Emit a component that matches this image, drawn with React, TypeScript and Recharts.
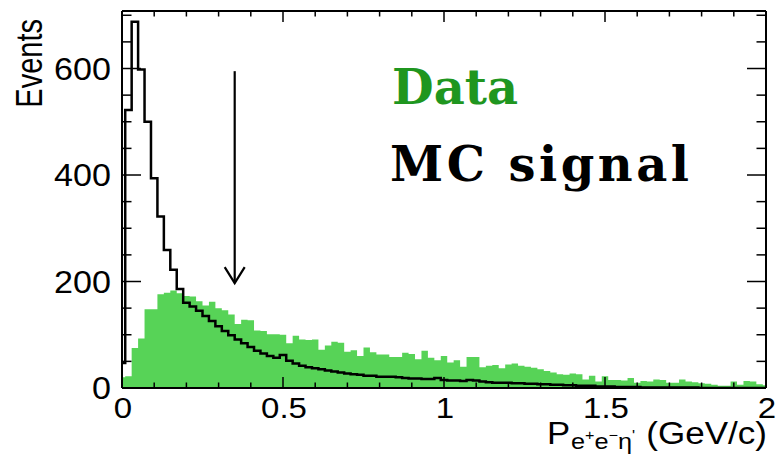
import React from 'react'
import { ComposedChart, Area, Line, XAxis, YAxis, ReferenceLine } from 'recharts'

// histogram bins, 0.02 GeV/c wide, bin k centred on k * 0.02
const BIN_WIDTH = 0.02

const dataCounts = [
  20, 22, 75, 93, 148, 148, 176, 179, 183, 178,
  173, 172, 163, 155, 162, 150, 146, 138, 120, 128,
  127, 108, 107, 101, 101, 100, 84, 98, 91, 90,
  91, 72, 80, 87, 85, 68, 71, 60, 76, 67,
  63, 63, 58, 58, 66, 64, 54, 70, 57, 52,
  60, 48, 52, 40, 58, 58, 39, 42, 43, 37,
  44, 46, 42, 40, 38, 35, 32, 29, 26, 25,
  27, 26, 16, 23, 12, 22, 15, 15, 14, 19,
  10, 13, 12, 16, 15, 10, 10, 16, 12, 11,
  9, 8, 6, 4, 4, 12, 6, 13, 12, 7,
  5,
]

const mcCounts = [
  47, 522, 688, 598, 500, 394, 322, 259, 222, 186,
  160, 153, 145, 135, 126, 116, 107, 99, 91, 84,
  77, 70, 65, 60, 57, 62, 51, 46, 42, 39,
  37, 35, 33, 31, 29, 27, 26, 25, 23, 23,
  21, 21, 21, 20, 19, 18, 18, 17, 17, 19,
  15, 14, 14, 13, 15, 14, 12, 11, 10, 10,
  10, 9, 9, 8, 8, 7, 7, 6, 6, 5,
  5, 4, 4, 4, 3, 3, 3, 2, 2, 2,
  2, 1, 1, 1, 1, 1, 1, 1, 1, 1,
  0, 0, 0, 0, 0, 0, 0, 0, 0, 0,
  0,
]

const xTicks = [0, 0.1, 0.2, 0.3, 0.4, 0.5, 0.6, 0.7, 0.8, 0.9, 1, 1.1, 1.2, 1.3, 1.4, 1.5, 1.6, 1.7, 1.8, 1.9, 2]
const xLabels = [0, 0.5, 1, 1.5, 2]
const yTicks = [0, 50, 100, 150, 200, 250, 300, 350, 400, 450, 500, 550, 600, 650, 700]
const yLabels = [0, 200, 400, 600]

// cut arrow
const arrowX = 0.35
const arrowTop = 595
const arrowTip = 197

const X_DOMAIN: [number, number] = [0, 2]
const Y_DOMAIN: [number, number] = [0, 708]

const rows = dataCounts.map((d, k) => ({
  x: Math.max(0, k * BIN_WIDTH - BIN_WIDTH / 2),
  data: d,
  mc: mcCounts[k],
}))
rows.push({ x: 2, data: dataCounts[dataCounts.length - 1], mc: mcCounts[mcCounts.length - 1] })

const SANS = '"Liberation Sans", Arial, Helvetica, sans-serif'
const SERIF = '"DejaVu Serif", "Liberation Serif", serif'
const GREEN = '#57d357'

const has = (list: number[], v: number) => list.some(l => Math.abs(l - v) < 1e-6)

// the source image is a little stretched sideways, so labels get a small x-scale
function WideText({ x, y, anchor, size, stretch = 1.1, children }: any) {
  return (
    <text
      transform={`translate(${x},${y}) scale(${stretch},1)`}
      textAnchor={anchor}
      fontSize={size}
      fontFamily={SANS}
      fill="#000"
    >
      {children}
    </text>
  )
}

function BottomTick({ x, y, payload }: any) {
  const major = has(xLabels, payload.value)
  return (
    <g>
      <line x1={x} y1={y} x2={x} y2={y - (major ? 11 : 5.5)} stroke="#000" strokeWidth={1.5} />
      {major && <WideText x={x + 1} y={y + 30} anchor="middle" size={30}>{String(payload.value)}</WideText>}
    </g>
  )
}

function TopTick({ x, y, payload }: any) {
  const major = has(xLabels, payload.value)
  return <line x1={x} y1={y} x2={x} y2={y + (major ? 11 : 5.5)} stroke="#000" strokeWidth={1.5} />
}

function LeftTick({ x, y, payload }: any) {
  const major = has(yLabels, payload.value)
  return (
    <g>
      <line x1={x} y1={y} x2={x + (major ? 19 : 9.5)} y2={y} stroke="#000" strokeWidth={1.5} />
      {major && <WideText x={x - 11} y={y + 11} anchor="end" size={31}>{String(payload.value)}</WideText>}
    </g>
  )
}

function RightTick({ x, y, payload }: any) {
  const major = has(yLabels, payload.value)
  return <line x1={x} y1={y} x2={x - (major ? 19 : 9.5)} y2={y} stroke="#000" strokeWidth={1.5} />
}

function ArrowShape(props: any) {
  const { x1, y1, x2, y2 } = props
  return (
    <g>
      <line x1={x1} y1={y1} x2={x2} y2={y2} stroke="#000" strokeWidth={2.2} />
      <polyline
        points={`${x2 - 10},${y2 - 16} ${x2},${y2} ${x2 + 10},${y2 - 16}`}
        fill="none"
        stroke="#000"
        strokeWidth={2.2}
      />
    </g>
  )
}

const axisLine = { stroke: '#000', strokeWidth: 2 }

export default function App() {
  return (
    <div style={{ position: 'absolute', left: 0, top: 0, width: 780, height: 457, background: '#fff' }}>
      <ComposedChart width={780} height={457} data={rows} margin={{ top: 10, right: 13, bottom: 68, left: 121 }}>
        <XAxis
          dataKey="x"
          type="number"
          domain={X_DOMAIN}
          allowDataOverflow
          ticks={xTicks}
          interval={0}
          height={1}
          tickSize={0}
          tickMargin={0}
          tickLine={false}
          axisLine={axisLine}
          tick={BottomTick}
        />
        <XAxis
          xAxisId="top"
          dataKey="x"
          orientation="top"
          type="number"
          domain={X_DOMAIN}
          allowDataOverflow
          ticks={xTicks}
          interval={0}
          height={1}
          tickSize={0}
          tickMargin={0}
          tickLine={false}
          axisLine={axisLine}
          tick={TopTick}
        />
        <YAxis
          type="number"
          domain={Y_DOMAIN}
          allowDataOverflow
          ticks={yTicks}
          interval={0}
          width={1}
          tickSize={0}
          tickMargin={0}
          tickLine={false}
          axisLine={axisLine}
          tick={LeftTick}
        />
        <YAxis
          yAxisId="right"
          orientation="right"
          type="number"
          domain={Y_DOMAIN}
          allowDataOverflow
          ticks={yTicks}
          interval={0}
          width={1}
          tickSize={0}
          tickMargin={0}
          tickLine={false}
          axisLine={axisLine}
          tick={RightTick}
        />
        <Area
          type="stepAfter"
          dataKey="data"
          fill={GREEN}
          fillOpacity={1}
          stroke="none"
          isAnimationActive={false}
        />
        <Line
          xAxisId="top"
          yAxisId="right"
          type="stepAfter"
          dataKey="mc"
          stroke="#000"
          strokeWidth={2.5}
          dot={false}
          isAnimationActive={false}
        />
        <ReferenceLine
          segment={[{ x: arrowX, y: arrowTop }, { x: arrowX, y: arrowTip }]}
          shape={ArrowShape}
          ifOverflow="visible"
        />
      </ComposedChart>
      <svg width={780} height={457} style={{ position: 'absolute', left: 0, top: 0, pointerEvents: 'none' }}>
        <text x={392} y={104} fontFamily={SERIF} fontWeight="bold" fontSize={48} fill="#1f961f">Data</text>
        <text x={390} y={181} fontFamily={SERIF} fontWeight="bold" fontSize={48} letterSpacing={3.5} fill="#000">
          MC signal
        </text>
        <text
          transform="translate(42,19) scale(1.3,1) rotate(-90)"
          textAnchor="end"
          fontFamily={SANS}
          fontSize={29}
          fill="#000"
        >
          Events
        </text>
        <WideText x={547} y={444} anchor="start" size={31} stretch={1.12}>P</WideText>
        <WideText x={571} y={449} anchor="start" size={22} stretch={1.15}>
          e<tspan dy={-9} fontSize={14}>+</tspan>
          <tspan dy={9}>e</tspan>
          <tspan dy={-9} fontSize={14}>−</tspan>
          <tspan dy={9}>η</tspan>
          <tspan dy={-9} fontSize={14}>'</tspan>
        </WideText>
        <WideText x={767} y={444} anchor="end" size={31} stretch={1.13}>(GeV/c)</WideText>
      </svg>
    </div>
  )
}
